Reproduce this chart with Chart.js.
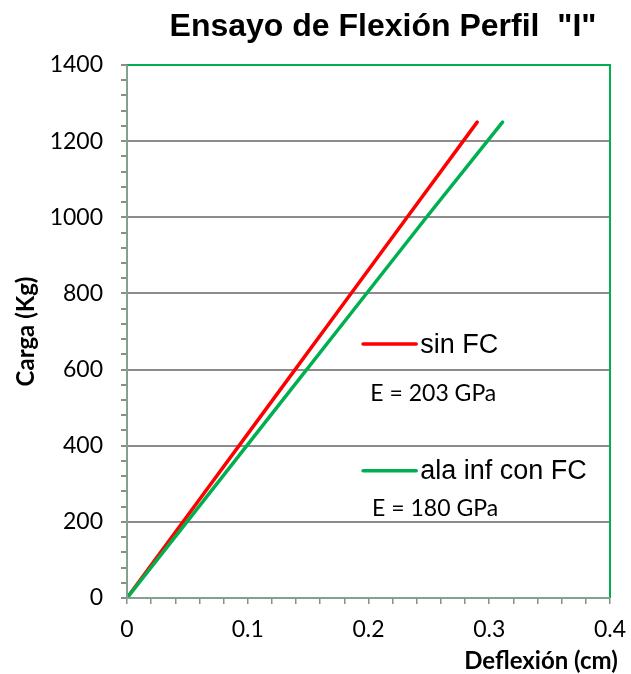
<!DOCTYPE html>
<html>
<head>
<meta charset="utf-8">
<script src="https://cdn.jsdelivr.net/npm/chart.js@4"></script>
<style>
  html, body { margin: 0; padding: 0; background: #ffffff; }
  #wrap { width: 631px; height: 674px; }
</style>
</head>
<body>
<div id="wrap"><canvas id="flexion" width="631" height="674"></canvas></div>
<script>
// Load (Kg) vs deflection (cm)
const carga = [0, 250, 500, 750, 1000, 1250];
const deflexSinFC = [0, 0.058, 0.116, 0.174, 0.232, 0.290];
const deflexConFC = [0, 0.062, 0.124, 0.186, 0.248, 0.311];

const seriesNames = ["sin FC", "ala inf con FC"];
const moduleLabels = ["E = 203 GPa", "E = 180 GPa"];
const xMajorTicks = [0, 0.1, 0.2, 0.3, 0.4];
const yMajorTicks = [0, 200, 400, 600, 800, 1000, 1200, 1400];

const COL_RED = "#ff0000";
const COL_GREEN = "#00b050";
const COL_AXIS = "#86a08f";
const COL_GRID = "#8c8c8c";

function toPoints(xs, ys) {
    const pts = [];
    for (let i = 0; i < xs.length; i++) {
        pts.push({ x: xs[i], y: ys[i] });
    }
    return pts;
}

function isMajor(v, list) {
    return list.some(m => Math.abs(m - v) < 1e-6);
}

// legend + text drawn inside the plot, anchored on data coordinates
const legendItems = [
    { color: COL_RED, name: seriesNames[0], e: moduleLabels[0], x0: 0.1955, x1: 0.2395, y: 667, eX: 0.2015, eY: 536 },
    { color: COL_GREEN, name: seriesNames[1], e: moduleLabels[1], x0: 0.1955, x1: 0.2395, y: 334, eX: 0.2030, eY: 236 }
];

const textPlugin = {
    id: "textPlugin",
    afterDraw(chart) {
        const ctx = chart.ctx;
        const xs = chart.scales.x;
        const ys = chart.scales.y;
        const area = chart.chartArea;
        ctx.save();

        // title
        ctx.fillStyle = "#000";
        ctx.font = "bold 32px 'Liberation Sans', Arial, sans-serif";
        ctx.textAlign = "center";
        ctx.textBaseline = "alphabetic";
        ctx.fillText('Ensayo de Flexión Perfil  "I"', 383, 36);

        // axis titles
        ctx.font = "bold 24px Lato, sans-serif";
        ctx.fillText("Deflexión (cm)", 541, 669);
        ctx.save();
        ctx.translate(26, (area.top + area.bottom) / 2);
        ctx.rotate(-Math.PI / 2);
        ctx.textBaseline = "middle";
        ctx.font = "bold 24px Lato, sans-serif";
        ctx.fillText("Carga (Kg)", 0, 0);
        ctx.restore();

        // legend
        ctx.textBaseline = "middle";
        legendItems.forEach(it => {
            const py = ys.getPixelForValue(it.y);
            const px0 = xs.getPixelForValue(it.x0);
            const px1 = xs.getPixelForValue(it.x1);
            ctx.strokeStyle = it.color;
            ctx.lineWidth = 3.5;
            ctx.lineCap = "round";
            ctx.beginPath();
            ctx.moveTo(px0, py);
            ctx.lineTo(px1, py);
            ctx.stroke();
            ctx.fillStyle = "#000";
            ctx.textAlign = "left";
            ctx.font = "27px 'Liberation Sans', Arial, sans-serif";
            ctx.fillText(it.name, px1 + 4, py + 1);
            ctx.font = "23px Lato, sans-serif";
            ctx.fillText(it.e, xs.getPixelForValue(it.eX), ys.getPixelForValue(it.eY));
        });

        // green frame on top and right, gray-green axis lines
        ctx.lineCap = "butt";
        ctx.lineWidth = 2;
        ctx.strokeStyle = COL_GREEN;
        ctx.beginPath();
        ctx.moveTo(area.left, area.top);
        ctx.lineTo(area.right, area.top);
        ctx.lineTo(area.right, area.bottom);
        ctx.stroke();
        ctx.strokeStyle = COL_AXIS;
        ctx.beginPath();
        ctx.moveTo(area.left, area.top);
        ctx.lineTo(area.left, area.bottom);
        ctx.lineTo(area.right, area.bottom);
        ctx.stroke();
        ctx.restore();
    }
};

new Chart("flexion", {
    type: "line",
    data: {
        datasets: [
            {
                label: seriesNames[0],
                data: toPoints(deflexSinFC, carga),
                borderColor: COL_RED,
                borderWidth: 3.5,
                borderCapStyle: "round",
                pointRadius: 0,
                order: 2
            },
            {
                label: seriesNames[1],
                data: toPoints(deflexConFC, carga),
                borderColor: COL_GREEN,
                borderWidth: 3.5,
                borderCapStyle: "round",
                pointRadius: 0,
                order: 1
            }
        ]
    },
    options: {
        responsive: false,
        animation: false,
        layout: { padding: { top: 65, right: 21, left: 0, bottom: 0 } },
        plugins: {
            legend: { display: false },
            title: { display: false },
            tooltip: { enabled: false }
        },
        scales: {
            x: {
                type: "linear",
                min: 0,
                max: 0.4,
                afterFit: s => { s.height = 76; s.paddingRight = 0; },
                afterBuildTicks: s => {
                    const t = [];
                    for (let i = 0; i <= 20; i++) t.push({ value: +(i * 0.02).toFixed(2) });
                    s.ticks = t;
                },
                border: { display: false },
                grid: {
                    color: "rgba(0,0,0,0)",
                    tickColor: COL_GRID,
                    tickLength: 6,
                    lineWidth: 1.5
                },
                ticks: {
                    autoSkip: false,
                    maxRotation: 0,
                    padding: 12,
                    color: "#000",
                    font: { family: "Lato", size: 23 },
                    callback: v => isMajor(v, xMajorTicks) ? String(+v.toFixed(1)) : ""
                }
            },
            y: {
                type: "linear",
                min: 0,
                max: 1400,
                afterFit: s => { s.width = 127; },
                afterBuildTicks: s => {
                    const t = [];
                    for (let i = 0; i <= 35; i++) t.push({ value: i * 40 });
                    s.ticks = t;
                },
                border: { display: false },
                grid: {
                    color: c => (c.tick && isMajor(c.tick.value, yMajorTicks) && c.tick.value > 0) ? COL_GRID : "rgba(0,0,0,0)",
                    tickColor: COL_GRID,
                    tickLength: 6,
                    lineWidth: 2
                },
                ticks: {
                    autoSkip: false,
                    padding: 18,
                    color: "#000",
                    font: { family: "Lato", size: 23 },
                    callback: v => isMajor(v, yMajorTicks) ? String(v) : ""
                }
            }
        }
    },
    plugins: [textPlugin]
});
</script>
</body>
</html>
